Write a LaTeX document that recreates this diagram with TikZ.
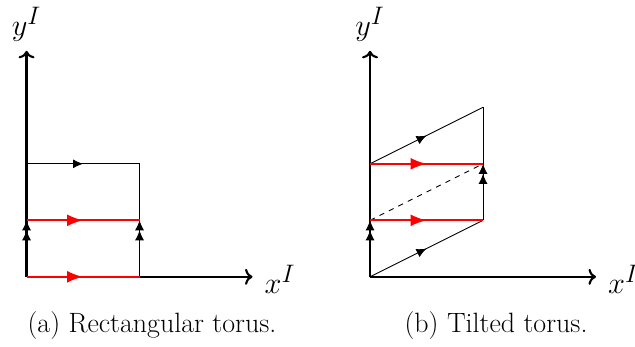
\documentclass[tikz,border=0pt]{standalone}
\usetikzlibrary{arrows.meta,decorations.markings,positioning}
\tikzset{
  axis/.style={line width=1.2pt,-{To[length=1.5mm,width=3.2mm]}},
  side/.style={black,line width=0.5pt},
  redpath/.style={red,line width=1.2pt},
  onearrow/.style={postaction={decorate},decoration={markings,
    mark=at position 0.5 with {\arrow{Latex[length=2mm,width=1.8mm]}}}},
  twoarrow/.style={postaction={decorate},decoration={markings,
    mark=at position 0.5 with {\arrow{Latex[length=2mm,width=1.8mm] Latex[length=2mm,width=1.8mm]}}}},
  redarrow/.style={postaction={decorate},decoration={markings,
    mark=at position 0.5 with {\arrow{Latex[length=3.2mm,width=2.4mm]}}}},
  axlabel/.style={font=\fontsize{19}{23}\selectfont,inner sep=1pt},
  caption/.style={font=\fontsize{15.9}{19}\selectfont,inner sep=0pt},
}
\begin{document}
\begin{tikzpicture}[x=1.13cm,y=1.13cm]
  \useasboundingbox (-0.47,-1.24) rectangle (10.77,4.9);

  % (a) rectangular torus
  \coordinate (a0) at (0,0);
  \coordinate (a1) at (0,1);
  \coordinate (a2) at (0,2);
  \coordinate (b0) at (2,0);
  \coordinate (b1) at (2,1);
  \coordinate (b2) at (2,2);
  \coordinate (ax) at (4,0);
  \coordinate (ay) at (0,4);
  \draw[axis] (a0) -- (ax);
  \draw[axis] (a0) -- (ay);
  \node[axlabel,right=0.2cm of ax,yshift=-0.06cm] {$x^I$};
  \node[axlabel,above=0.15cm of ay] {$y^I$};
  \draw[side,twoarrow] (a0) -- (a2);
  \draw[side,twoarrow] (b0) -- (b2);
  \draw[side,onearrow] (a2) -- (b2);
  \draw[redpath,redarrow] (a0) -- (b0);
  \draw[redpath,redarrow] (a1) -- (b1);
  \node[caption] at (2.22,-0.87) {(a) Rectangular torus.};

  % (b) tilted torus
  \begin{scope}[xshift=6.08*1.13cm]
    \coordinate (c0) at (0,0);
    \coordinate (c1) at (0,1);
    \coordinate (c2) at (0,2);
    \coordinate (d1) at (2,1);
    \coordinate (d2) at (2,2);
    \coordinate (d3) at (2,3);
    \coordinate (cx) at (4,0);
    \coordinate (cy) at (0,4);
    \draw[axis] (c0) -- (cx);
    \draw[axis] (c0) -- (cy);
    \node[axlabel,right=0.2cm of cx,yshift=-0.06cm] {$x^I$};
    \node[axlabel,above=0.15cm of cy] {$y^I$};
    \draw[side,twoarrow] (c0) -- (c2);
    \draw[side,twoarrow] (d1) -- (d3);
    \draw[side,onearrow] (c0) -- (d1);
    \draw[side,onearrow] (c2) -- (d3);
    \draw[side,dashed] (c1) -- (d2);
    \draw[redpath,redarrow] (c1) -- (d1);
    \draw[redpath,redarrow] (c2) -- (d2);
    \node[caption] at (2.23,-0.87) {(b) Tilted torus.};
  \end{scope}
\end{tikzpicture}
\end{document}
